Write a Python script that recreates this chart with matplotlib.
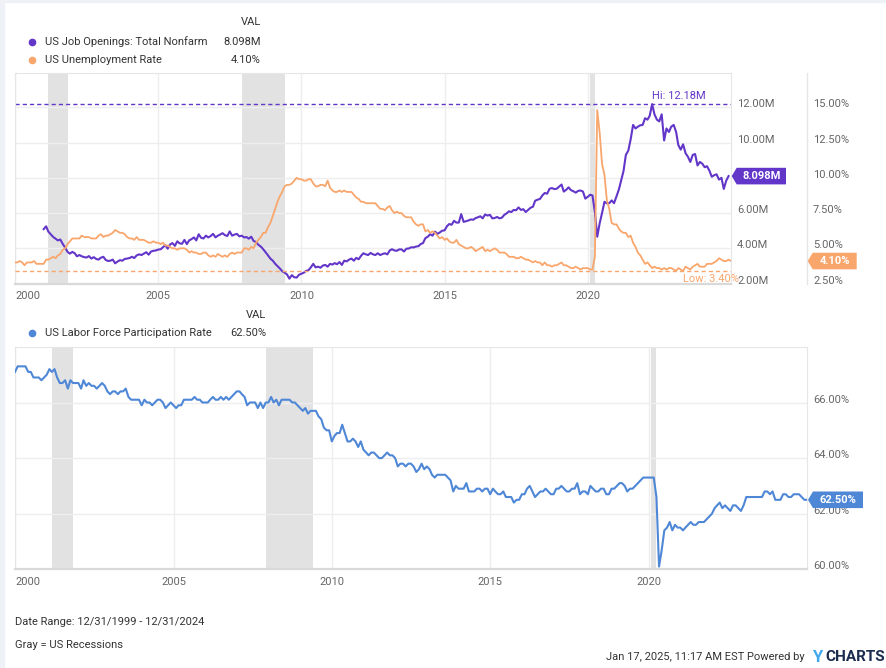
import pandas as pd
import matplotlib
matplotlib.use("Agg")
import matplotlib.pyplot as plt
from matplotlib.patches import Polygon, Rectangle
from matplotlib.lines import Line2D

plt.rcParams["font.family"] = ["Roboto", "DejaVu Sans"]

# monthly, dated at month end: Dec 1999 .. Dec 2024
unemployment = [
    4.0,
    4.0, 4.1, 4.0, 3.8, 4.0, 4.0, 4.0, 4.1, 3.9, 3.9, 3.9, 3.9,
    4.2, 4.2, 4.3, 4.4, 4.3, 4.5, 4.6, 4.9, 5.0, 5.3, 5.5, 5.7,
    5.7, 5.7, 5.7, 5.9, 5.8, 5.8, 5.8, 5.7, 5.7, 5.7, 5.9, 6.0,
    5.8, 5.9, 5.9, 6.0, 6.1, 6.3, 6.2, 6.1, 6.1, 6.0, 5.8, 5.7,
    5.7, 5.6, 5.8, 5.6, 5.6, 5.6, 5.5, 5.4, 5.4, 5.5, 5.4, 5.4,
    5.3, 5.4, 5.2, 5.2, 5.1, 5.0, 5.0, 4.9, 5.0, 5.0, 5.0, 4.9,
    4.7, 4.8, 4.7, 4.7, 4.6, 4.6, 4.7, 4.7, 4.5, 4.4, 4.5, 4.4,
    4.6, 4.5, 4.4, 4.5, 4.4, 4.6, 4.7, 4.6, 4.7, 4.7, 4.7, 5.0,
    5.0, 4.9, 5.1, 5.0, 5.4, 5.6, 5.8, 6.1, 6.1, 6.5, 6.8, 7.3,
    7.8, 8.3, 8.7, 9.0, 9.4, 9.5, 9.5, 9.6, 9.8, 10.0, 9.9, 9.9,
    9.8, 9.8, 9.9, 9.9, 9.6, 9.4, 9.4, 9.5, 9.5, 9.4, 9.8, 9.3,
    9.1, 9.0, 9.0, 9.1, 9.0, 9.1, 9.0, 9.0, 9.0, 8.8, 8.6, 8.5,
    8.3, 8.3, 8.2, 8.2, 8.2, 8.2, 8.2, 8.0, 7.8, 7.8, 7.7, 7.9,
    8.0, 7.7, 7.5, 7.6, 7.5, 7.5, 7.3, 7.2, 7.2, 7.2, 6.9, 6.7,
    6.6, 6.7, 6.7, 6.2, 6.3, 6.1, 6.2, 6.1, 5.9, 5.7, 5.8, 5.6,
    5.7, 5.5, 5.4, 5.4, 5.6, 5.3, 5.2, 5.1, 5.0, 5.0, 5.1, 5.0,
    4.8, 4.9, 5.0, 5.1, 4.8, 4.9, 4.8, 4.9, 5.0, 4.9, 4.7, 4.7,
    4.7, 4.6, 4.4, 4.4, 4.4, 4.3, 4.3, 4.4, 4.3, 4.2, 4.2, 4.1,
    4.0, 4.1, 4.0, 4.0, 3.8, 4.0, 3.8, 3.8, 3.7, 3.8, 3.8, 3.9,
    4.0, 3.8, 3.8, 3.7, 3.6, 3.6, 3.7, 3.6, 3.5, 3.6, 3.6, 3.6,
    3.5, 3.5, 4.4, 14.8, 13.2, 11.0, 10.2, 8.4, 7.8, 6.8, 6.7, 6.7,
    6.4, 6.2, 6.1, 6.1, 5.8, 5.9, 5.4, 5.1, 4.7, 4.5, 4.2, 3.9,
    4.0, 3.8, 3.6, 3.7, 3.6, 3.6, 3.5, 3.6, 3.5, 3.6, 3.6, 3.5,
    3.4, 3.6, 3.5, 3.4, 3.7, 3.6, 3.5, 3.7, 3.8, 3.9, 3.7, 3.7,
    3.7, 3.9, 3.9, 3.9, 4.0, 4.1, 4.3, 4.2, 4.1, 4.1, 4.2, 4.1,
]

participation = [
    67.1,
    67.3, 67.3, 67.3, 67.3, 67.1, 67.1, 66.9, 66.9, 66.9, 66.8, 66.9, 67.0,
    67.2, 67.1, 67.2, 66.9, 66.7, 66.7, 66.8, 66.5, 66.8, 66.7, 66.7, 66.7,
    66.5, 66.8, 66.6, 66.7, 66.6, 66.6, 66.5, 66.6, 66.7, 66.6, 66.4, 66.3,
    66.4, 66.4, 66.3, 66.4, 66.4, 66.5, 66.2, 66.1, 66.1, 66.1, 66.1, 65.9,
    66.1, 66.0, 66.0, 65.9, 66.0, 66.1, 66.1, 66.0, 65.8, 65.9, 66.0, 65.9,
    65.8, 65.9, 65.9, 66.1, 66.1, 66.1, 66.1, 66.2, 66.1, 66.1, 66.0, 66.0,
    66.0, 66.1, 66.2, 66.1, 66.1, 66.2, 66.1, 66.2, 66.1, 66.2, 66.3, 66.4,
    66.4, 66.3, 66.2, 65.9, 66.0, 66.0, 66.0, 65.8, 66.0, 65.8, 66.0, 66.0,
    66.2, 66.0, 66.1, 65.9, 66.1, 66.1, 66.1, 66.1, 66.0, 66.0, 65.9, 65.8,
    65.7, 65.8, 65.6, 65.7, 65.7, 65.7, 65.5, 65.4, 65.1, 65.0, 65.0, 64.6,
    64.8, 64.9, 64.9, 65.2, 64.9, 64.6, 64.6, 64.7, 64.6, 64.4, 64.6, 64.3,
    64.2, 64.1, 64.2, 64.2, 64.1, 64.0, 64.0, 64.1, 64.2, 64.1, 64.1, 64.0,
    63.7, 63.8, 63.8, 63.7, 63.8, 63.8, 63.7, 63.5, 63.6, 63.8, 63.6, 63.7,
    63.6, 63.4, 63.3, 63.4, 63.4, 63.4, 63.4, 63.3, 63.2, 62.8, 63.0, 62.9,
    62.9, 62.9, 63.1, 62.8, 62.8, 62.8, 62.9, 62.9, 62.8, 62.9, 62.9, 62.7,
    62.9, 62.8, 62.7, 62.7, 62.8, 62.6, 62.6, 62.6, 62.4, 62.5, 62.5, 62.7,
    62.7, 62.9, 63.0, 62.8, 62.6, 62.7, 62.8, 62.8, 62.9, 62.8, 62.7, 62.7,
    62.9, 62.9, 63.0, 62.9, 62.8, 62.8, 62.9, 62.9, 63.1, 62.7, 62.8, 62.8,
    62.7, 63.0, 62.9, 62.8, 62.8, 62.9, 62.9, 62.7, 62.7, 62.9, 62.9, 63.0,
    63.1, 63.1, 63.0, 62.8, 62.9, 62.9, 63.0, 63.1, 63.2, 63.3, 63.3, 63.3,
    63.3, 63.3, 62.6, 60.1, 60.7, 61.4, 61.5, 61.7, 61.4, 61.6, 61.5, 61.5,
    61.4, 61.5, 61.6, 61.7, 61.6, 61.6, 61.7, 61.7, 61.7, 61.8, 61.9, 62.0,
    62.2, 62.3, 62.4, 62.2, 62.3, 62.2, 62.1, 62.3, 62.3, 62.2, 62.1, 62.3,
    62.6, 62.6, 62.6, 62.6, 62.6, 62.6, 62.6, 62.8, 62.8, 62.7, 62.8, 62.5,
    62.5, 62.5, 62.7, 62.7, 62.6, 62.6, 62.7, 62.7, 62.7, 62.6, 62.5, 62.5,
]

# millions, Dec 2000 .. Nov 2024
job_openings = [
    5.09,
    5.25, 4.95, 4.80, 4.65, 4.55, 4.45, 4.50, 4.25, 4.05, 3.80, 3.70, 3.80,
    3.72, 3.55, 3.62, 3.55, 3.50, 3.48, 3.56, 3.42, 3.50, 3.40, 3.36, 3.47,
    3.52, 3.35, 3.28, 3.30, 3.36, 3.15, 3.25, 3.33, 3.30, 3.40, 3.42, 3.45,
    3.52, 3.45, 3.60, 3.66, 3.62, 3.70, 3.78, 3.64, 3.82, 3.86, 3.88, 3.93,
    3.95, 4.06, 4.18, 3.98, 4.22, 4.30, 4.14, 4.40, 4.28, 4.26, 4.48, 4.24,
    4.46, 4.52, 4.62, 4.45, 4.80, 4.60, 4.56, 4.72, 4.62, 4.70, 4.82, 4.62,
    4.72, 4.78, 4.86, 4.75, 4.70, 4.96, 4.72, 4.78, 4.82, 4.68, 4.72, 4.62,
    4.64, 4.55, 4.66, 4.42, 4.36, 4.20, 4.10, 3.95, 3.78, 3.60, 3.42, 3.30,
    3.12, 3.00, 2.86, 2.70, 2.62, 2.52, 2.28, 2.48, 2.36, 2.34, 2.50, 2.56,
    2.62, 2.72, 2.76, 2.92, 3.12, 2.92, 2.96, 2.90, 3.02, 3.06, 2.96, 3.12,
    3.08, 3.16, 3.10, 3.22, 3.06, 3.30, 3.26, 3.36, 3.42, 3.30, 3.46, 3.38,
    3.58, 3.72, 3.66, 3.62, 3.74, 3.66, 3.62, 3.72, 3.62, 3.68, 3.72, 3.66,
    3.88, 3.95, 3.88, 3.86, 3.94, 3.94, 3.82, 3.98, 3.99, 4.06, 4.05, 4.10,
    4.12, 4.24, 4.30, 4.58, 4.66, 4.80, 4.72, 4.95, 4.82, 4.90, 5.00, 5.02,
    5.26, 5.38, 5.34, 5.56, 5.46, 5.46, 5.94, 5.50, 5.54, 5.58, 5.64, 5.62,
    5.72, 5.76, 5.82, 5.70, 5.92, 5.86, 5.90, 5.70, 5.72, 5.78, 5.70, 5.74,
    5.90, 5.98, 6.10, 6.06, 6.18, 6.16, 6.32, 6.18, 6.22, 6.06, 6.18, 6.30,
    6.36, 6.70, 6.76, 6.80, 7.00, 7.14, 7.10, 7.38, 7.42, 7.36, 7.38, 7.50,
    7.62, 7.22, 7.32, 7.46, 7.30, 7.24, 7.16, 7.26, 7.28, 7.22, 6.82, 6.92,
    7.04, 7.00, 6.06, 4.66, 5.42, 6.00, 6.64, 6.55, 6.56, 6.72, 6.56, 6.94,
    7.34, 7.84, 8.38, 9.30, 9.54, 10.18, 11.00, 10.80, 10.90, 10.98, 11.00, 11.38,
    11.30, 11.52, 12.18, 11.60, 11.30, 11.20, 11.60, 10.12, 10.80, 10.60, 10.90, 11.00,
    10.60, 9.86, 9.60, 9.90, 9.40, 9.20, 8.90, 9.30, 9.35, 8.70, 8.90, 8.80,
    8.60, 8.66, 8.40, 8.06, 8.15, 8.20, 7.90, 8.00, 7.37, 7.84, 8.098,
]

recessions = [("2001-03-01", "2001-10-31"), ("2007-12-01", "2009-05-31"), ("2020-02-01", "2020-03-31")]
year_ticks = [2000, 2005, 2010, 2015, 2020]
m_ticks = [2, 4, 6, 8, 10, 12]
pct_ticks = [2.5, 5.0, 7.5, 10.0, 12.5, 15.0]
lfpr_ticks = [60, 62, 64, 66]

PURPLE = "#6236c9"
ORANGE = "#f9a66c"
BLUE = "#4f87d7"
GRID = "#eeeeee"
TICK = "#666666"
TEXT = "#333333"

month_ends = pd.date_range("2000-01-01", periods=len(unemployment), freq="MS") - pd.Timedelta(days=1)
jo_dates = pd.date_range("2001-01-01", periods=len(job_openings), freq="MS") - pd.Timedelta(days=1)

W, H = 887, 668
fig = plt.figure(figsize=(W / 100, H / 100), dpi=100)

def fx(x):
    return x / W

def fy(y):
    return 1 - y / H

# page frame
fig.add_artist(Rectangle((0, 0), fx(4), 1, transform=fig.transFigure, color="#eef1f6", zorder=0))
fig.add_artist(Rectangle((0, fy(2)), 1, 2 / H, transform=fig.transFigure, color="#eef1f6", zorder=0))

ax = fig.add_axes([fx(15), fy(283.6), fx(716), (283.6 - 73) / H])
axb = fig.add_axes([fx(15), fy(569.3), fx(792), (569.3 - 347) / H])
ax2 = ax.twinx()

xlim = (pd.Timestamp("1999-12-31"), pd.Timestamp("2024-12-31"))
m_top = 2 + (283.6 - 73) / 17.63
ax.set_ylim(2, m_top)
ax2.set_ylim(2.5, 2.5 + (m_top - 2) * 1.25)
axb.set_ylim(60, 60 + (569.3 - 347) / 27.8)

for a in (ax, axb):
    a.set_xlim(*xlim)
    for s, e in recessions:
        a.axvspan(pd.Timestamp(s), pd.Timestamp(e), color="#e2e2e2", lw=0, zorder=0.5)
    a.set_xticks([pd.Timestamp(f"{y}-01-01") for y in year_ticks])
    a.set_xticklabels([str(y) for y in year_ticks])
    a.get_xticklabels()[0].set_ha("left")
    a.grid(True, color=GRID, lw=1)
    a.set_axisbelow(True)
    a.tick_params(axis="x", length=0, pad=5.5, labelsize=8, labelcolor=TICK)
    a.tick_params(axis="y", length=0, pad=4.3, labelsize=8, labelcolor=TICK,
                  left=False, labelleft=False, right=False, labelright=True)
    for side in ("top", "left", "right"):
        a.spines[side].set_color("#e6e6e6")
    a.spines["bottom"].set_color("#d9d9d9")
    a.spines["bottom"].set_linewidth(1.6)

# the 8.00M label sits under the value tag in the original
ax.set_yticks(m_ticks)
ax.set_yticklabels(["" if v == 8 else f"{v:.2f}M" for v in m_ticks])
ax2.set_yticks(pct_ticks)
ax2.set_yticklabels([f"{v:.2f}%" for v in pct_ticks])
ax2.tick_params(axis="y", length=0, pad=59, labelsize=8, labelcolor=TICK)
for side in ax2.spines:
    ax2.spines[side].set_visible(False)
axb.set_yticks(lfpr_ticks)
axb.set_yticklabels([f"{v:.2f}%" for v in lfpr_ticks])
for a in (ax, ax2, axb):
    for t in a.get_yticklabels():
        t.set_va("baseline")

ax.plot(jo_dates, job_openings, color=PURPLE, lw=1.5, zorder=3)
ax2.plot(month_ends, unemployment, color=ORANGE, lw=1.3, zorder=3)
axb.plot(month_ends, participation, color=BLUE, lw=1.5, zorder=3)

# hi / low markers
hi = max(job_openings)
hi_date = jo_dates[job_openings.index(hi)]
ax.axhline(hi, color=PURPLE, lw=1, dashes=(3, 2.2), zorder=2)
ax.annotate(f"Hi: {hi:.2f}M", xy=(hi_date, hi), xytext=(0, 2), textcoords="offset points",
            ha="left", va="bottom", color=PURPLE, fontsize=8, annotation_clip=False)
lo = min(unemployment)
lo_idx = len(unemployment) - 1 - unemployment[::-1].index(lo)
ax2.axhline(lo, color=ORANGE, lw=1, dashes=(3, 2.2), zorder=2)
ax2.annotate(f"Low: {lo:.2f}%", xy=(month_ends[lo_idx], lo), xytext=(0, -2), textcoords="offset points",
             ha="left", va="top", color=ORANGE, fontsize=8, annotation_clip=False)

# separator of the two value axes
fig.add_artist(Line2D([fx(807), fx(807)], [fy(73), fy(283.6)], color="#e6e6e6", lw=1))


def value_tag(a, value, tip_x, box_w, label, color):
    yf = a.transData.transform((0, value))[1] / fig.bbox.height
    h = 8.3 / H
    x0, x1, x2 = fx(tip_x), fx(tip_x + 5), fx(tip_x + 5 + box_w)
    fig.add_artist(Polygon([(x0, yf), (x1, yf + h), (x2, yf + h), (x2, yf - h), (x1, yf - h)],
                           closed=True, transform=fig.transFigure, fc=color, ec="none", zorder=5))
    fig.text((x1 + x2) / 2, yf, label, ha="center", va="center", color="white",
             fontsize=8, fontweight="bold", zorder=6)


value_tag(ax, job_openings[-1], 731.7, 49.3, f"{job_openings[-1]:.3f}M", PURPLE)
value_tag(ax2, unemployment[-1], 807.7, 44, f"{unemployment[-1]:.2f}%", ORANGE)
value_tag(axb, participation[-1], 808, 50, f"{participation[-1]:.2f}%", BLUE)

# legends
def legend_row(y, color, name, val, right):
    fig.add_artist(Line2D([fx(32)], [fy(y)], marker="o", ms=4.5, color=color, lw=0,
                          transform=fig.transFigure))
    fig.text(fx(45), fy(y), name, ha="left", va="center", fontsize=8, color=TEXT)
    fig.text(fx(right), fy(y), val, ha="right", va="center", fontsize=8, color=TEXT)


fig.text(fx(261), fy(22), "VAL", ha="right", va="center", fontsize=8, color=TEXT)
legend_row(42, PURPLE, "US Job Openings: Total Nonfarm", f"{job_openings[-1]:.3f}M", 261)
legend_row(60, ORANGE, "US Unemployment Rate", f"{unemployment[-1]:.2f}%", 261)
fig.text(fx(266), fy(315), "VAL", ha="right", va="center", fontsize=8, color=TEXT)
legend_row(333, BLUE, "US Labor Force Participation Rate", f"{participation[-1]:.2f}%", 266)

# footer
fig.text(fx(15), fy(622), "Date Range: 12/31/1999 - 12/31/2024", ha="left", va="center", fontsize=8, color=TEXT)
fig.text(fx(15), fy(645), "Gray = US Recessions", ha="left", va="center", fontsize=8, color=TEXT)
fig.text(fx(805), fy(657), "Jan 17, 2025, 11:17 AM EST Powered by", ha="right", va="center", fontsize=8, color=TEXT)
fig.text(fx(822), fy(657), "Y", ha="right", va="center", fontsize=12, fontweight="bold", color="#3fa9f0")
fig.text(fx(885), fy(657), "CHARTS", ha="right", va="center", fontsize=11, fontweight="bold", color="#1b2c4f")

fig.savefig("out.png", dpi=100)
